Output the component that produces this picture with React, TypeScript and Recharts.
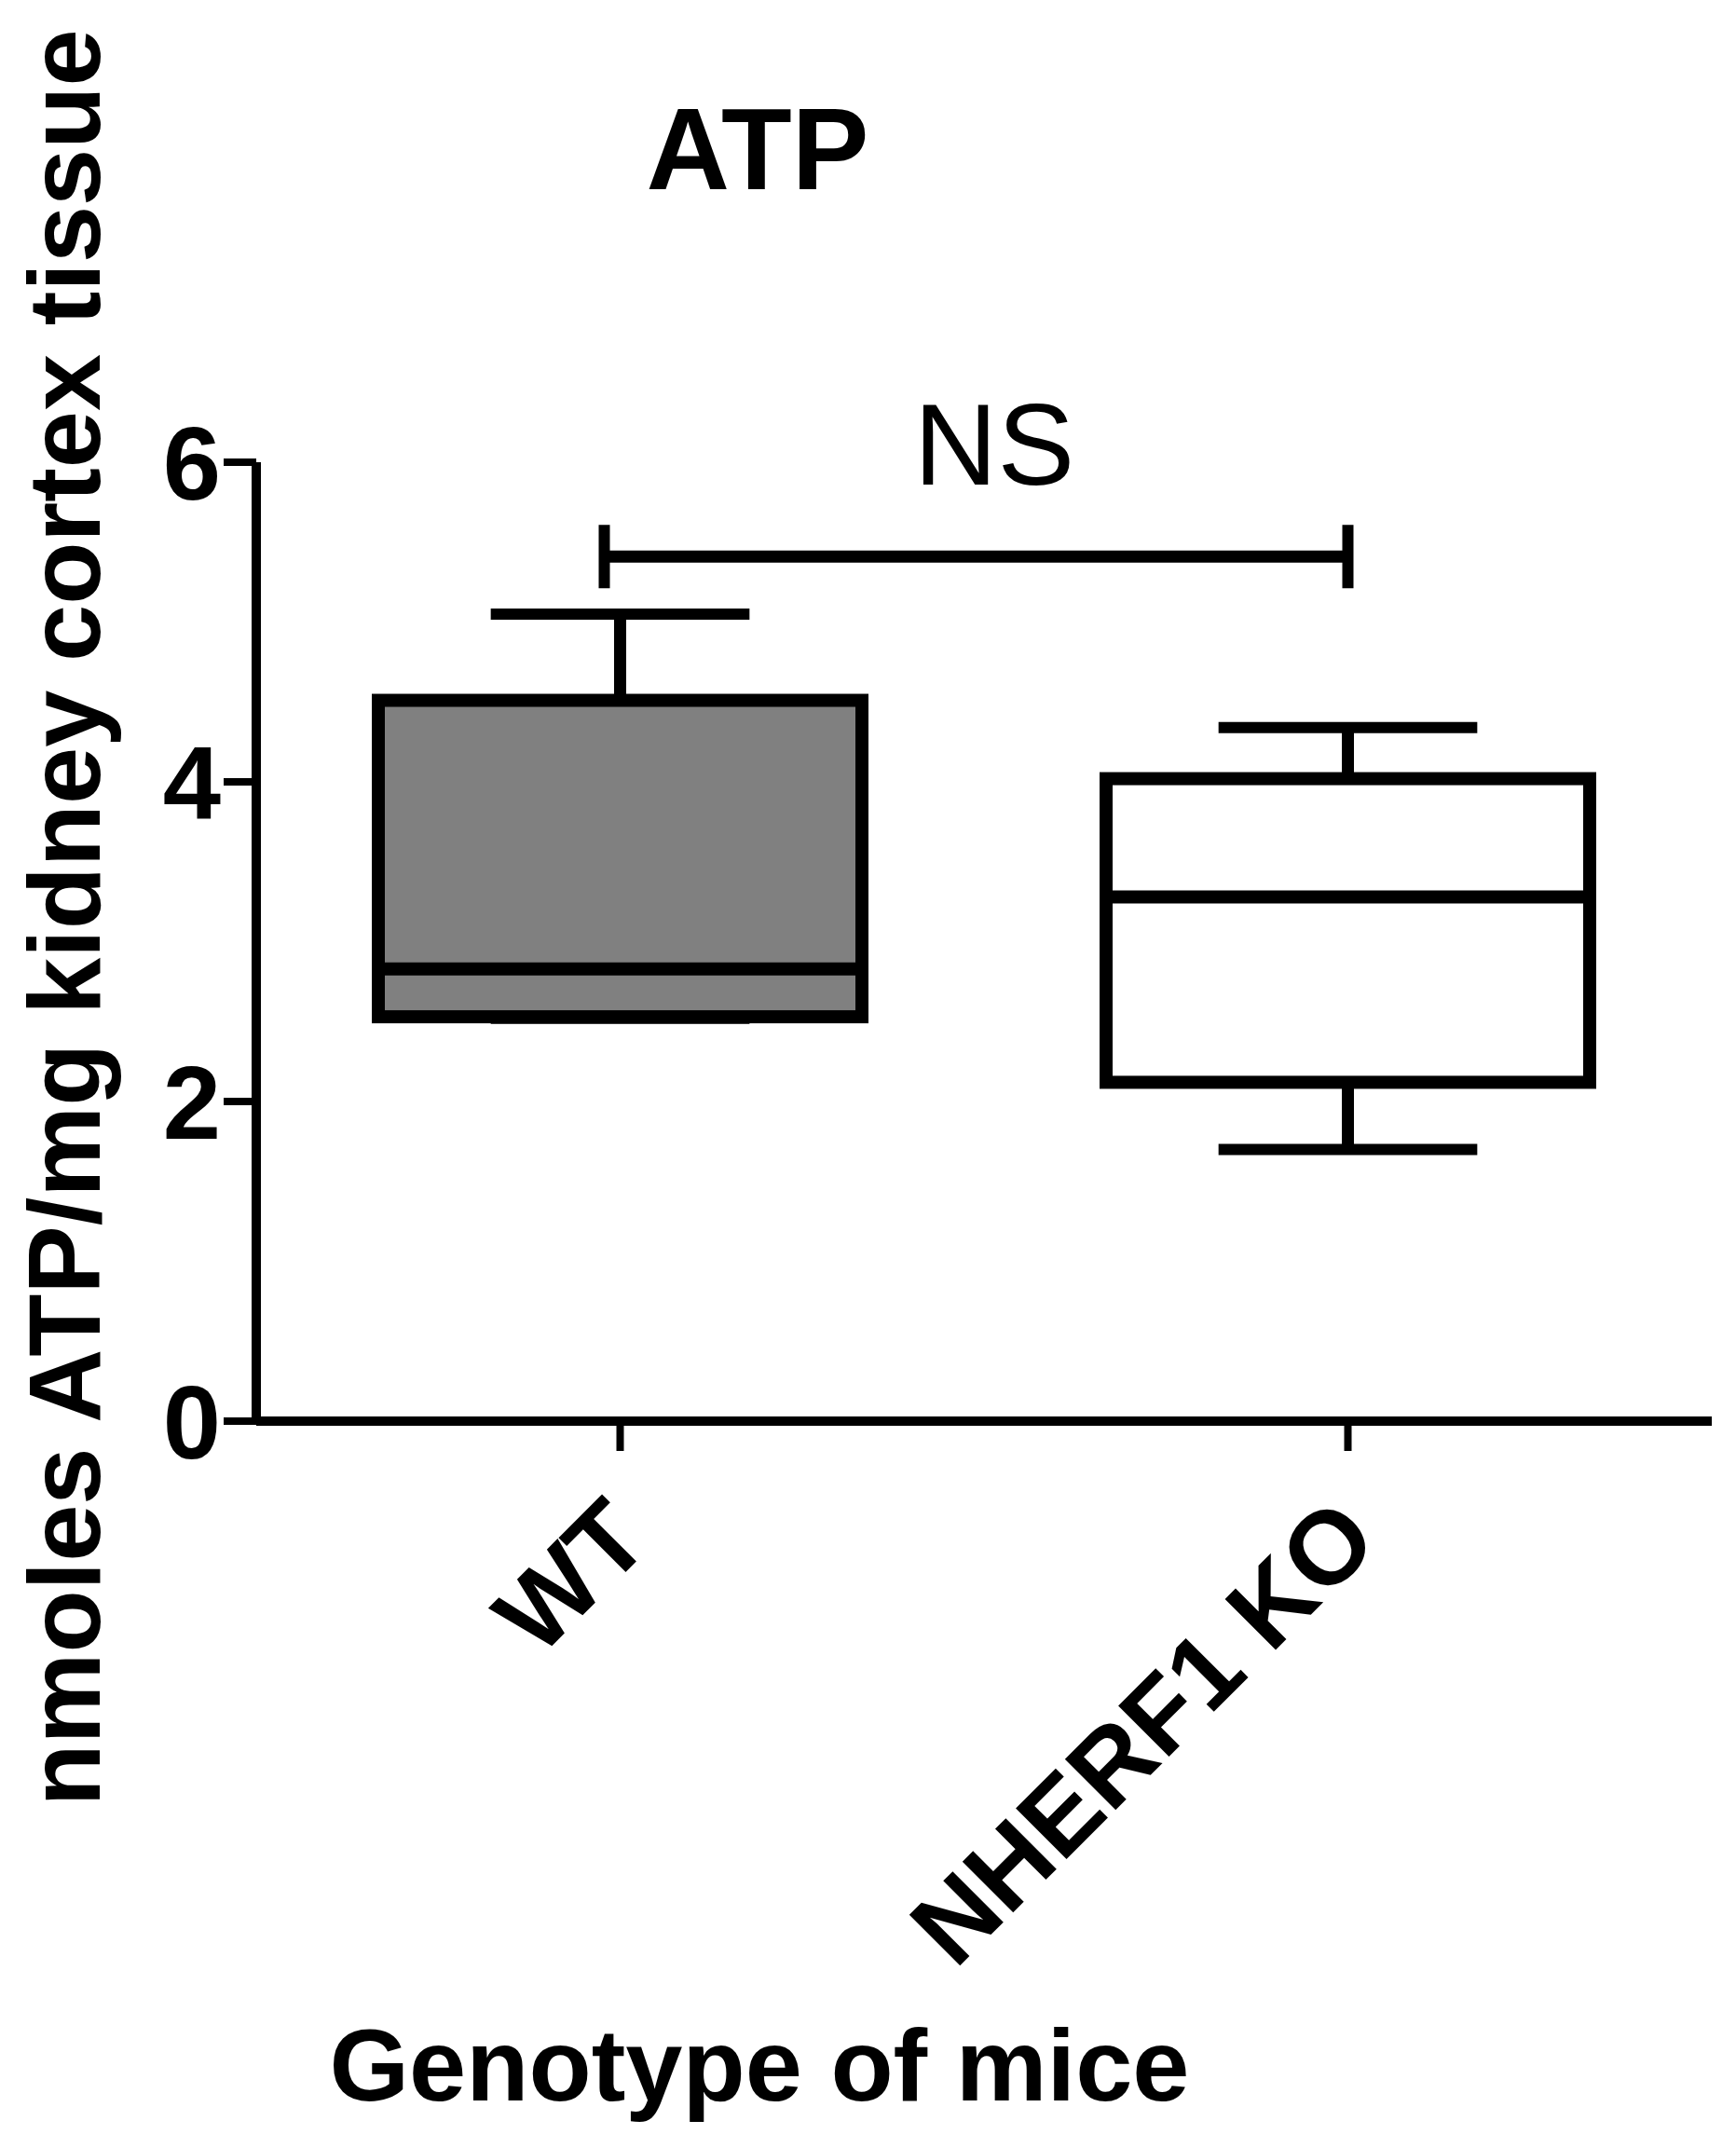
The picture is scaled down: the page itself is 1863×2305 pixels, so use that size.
import React from 'react'
import { ComposedChart, Bar, XAxis, YAxis, ReferenceLine } from 'recharts'

// box plot summary per genotype (nmoles ATP / mg tissue)
const categories = ['WT', 'NHERF1 KO']
const minVals = [2.52, 1.7]
const q1Vals = [2.53, 2.12]
const medianVals = [2.83, 3.28]
const q3Vals = [4.51, 4.02]
const maxVals = [5.05, 4.34]
const yTicks = [0, 2, 4, 6]
const bracketY = 5.41
const bracketLabel = 'NS'

const FONT = '"Liberation Sans", Arial, Helvetica, sans-serif'
const boxFill: Record<string, string> = { WT: '#808080', 'NHERF1 KO': '#ffffff' }

const data = categories.map((name, i) => ({
  name,
  min: minVals[i],
  q1: q1Vals[i],
  median: medianVals[i],
  q3: q3Vals[i],
  max: maxVals[i],
  box: [q1Vals[i], q3Vals[i]],
}))

function BoxShape(props: any) {
  const { x, y, width, height, payload } = props
  const top = Math.min(y, y + height)
  const h = Math.abs(height)
  const ppu = h / (payload.q3 - payload.q1)
  const py = (v: number) => top + (payload.q3 - v) * ppu
  const cx = x + width / 2
  const cap = width * 0.535
  return (
    <g>
      <line x1={cx} x2={cx} y1={py(payload.max)} y2={py(payload.q3)} stroke="#000" strokeWidth={13} />
      <line x1={cx} x2={cx} y1={py(payload.q1)} y2={py(payload.min)} stroke="#000" strokeWidth={13} />
      <line x1={cx - cap / 2} x2={cx + cap / 2} y1={py(payload.max)} y2={py(payload.max)} stroke="#000" strokeWidth={12} />
      <line x1={cx - cap / 2} x2={cx + cap / 2} y1={py(payload.min)} y2={py(payload.min)} stroke="#000" strokeWidth={12} />
      <rect x={x} y={top} width={width} height={h} fill={boxFill[payload.name]} stroke="#000" strokeWidth={14} />
      <line x1={x} x2={x + width} y1={py(payload.median)} y2={py(payload.median)} stroke="#000" strokeWidth={14} />
    </g>
  )
}

function Bracket(props: any) {
  const { x1, x2, y1 } = props
  const left = x1 - 17
  return (
    <g>
      <line x1={left} x2={x2} y1={y1} y2={y1} stroke="#000" strokeWidth={13} />
      <line x1={left} x2={left} y1={y1 - 34} y2={y1 + 34} stroke="#000" strokeWidth={12} />
      <line x1={x2} x2={x2} y1={y1 - 34} y2={y1 + 34} stroke="#000" strokeWidth={12} />
    </g>
  )
}

function XTick(props: any) {
  const { x, y, payload } = props
  const ax = x + 36
  const ay = y + 100
  return (
    <text
      x={ax}
      y={ay}
      transform={`rotate(-45 ${ax} ${ay})`}
      textAnchor="end"
      fontFamily={FONT}
      fontWeight="bold"
      fontSize={112}
      fill="#000"
    >
      {payload.value}
    </text>
  )
}

export default function App() {
  return (
    <div style={{ width: 1863, height: 2305, background: '#fff' }}>
      <style>{`body{margin:0;background:#fff}`}</style>
      <ComposedChart
        width={1863}
        height={2305}
        data={data}
        margin={{ top: 496, right: 26, bottom: 580, left: 75 }}
      >
        <XAxis
          dataKey="name"
          height={200}
          axisLine={{ stroke: '#000', strokeWidth: 10 }}
          tickLine={{ stroke: '#000', strokeWidth: 8 }}
          tickSize={32}
          tickMargin={0}
          tick={<XTick />}
          interval={0}
        />
        <YAxis
          width={200}
          domain={[0, 6]}
          ticks={yTicks}
          allowDataOverflow
          axisLine={{ stroke: '#000', strokeWidth: 10 }}
          tickLine={{ stroke: '#000', strokeWidth: 8 }}
          tickSize={35}
          tickMargin={3}
          tick={{ fontSize: 112, fontWeight: 'bold', fill: '#000', fontFamily: FONT }}
        />
        <Bar dataKey="box" barSize={519} shape={<BoxShape />} isAnimationActive={false} />
        <ReferenceLine
          segment={[{ x: categories[0], y: bracketY }, { x: categories[1], y: bracketY }]}
          shape={<Bracket />}
          ifOverflow="visible"
        />
        <text x={813} y={203} textAnchor="middle" fontFamily={FONT} fontWeight="bold" fontSize={124} fill="#000">
          ATP
        </text>
        <text x={1067} y={520} textAnchor="middle" fontFamily={FONT} fontSize={124} fill="#000">
          {bracketLabel}
        </text>
        <text
          transform="translate(107,985) rotate(-90)"
          textAnchor="middle"
          fontFamily={FONT}
          fontWeight="bold"
          fontSize={110}
          fill="#000"
        >
          nmoles ATP/mg kidney cortex tissue
        </text>
        <text x={815} y={2254} textAnchor="middle" fontFamily={FONT} fontWeight="bold" fontSize={110} fill="#000">
          Genotype of mice
        </text>
      </ComposedChart>
    </div>
  )
}
